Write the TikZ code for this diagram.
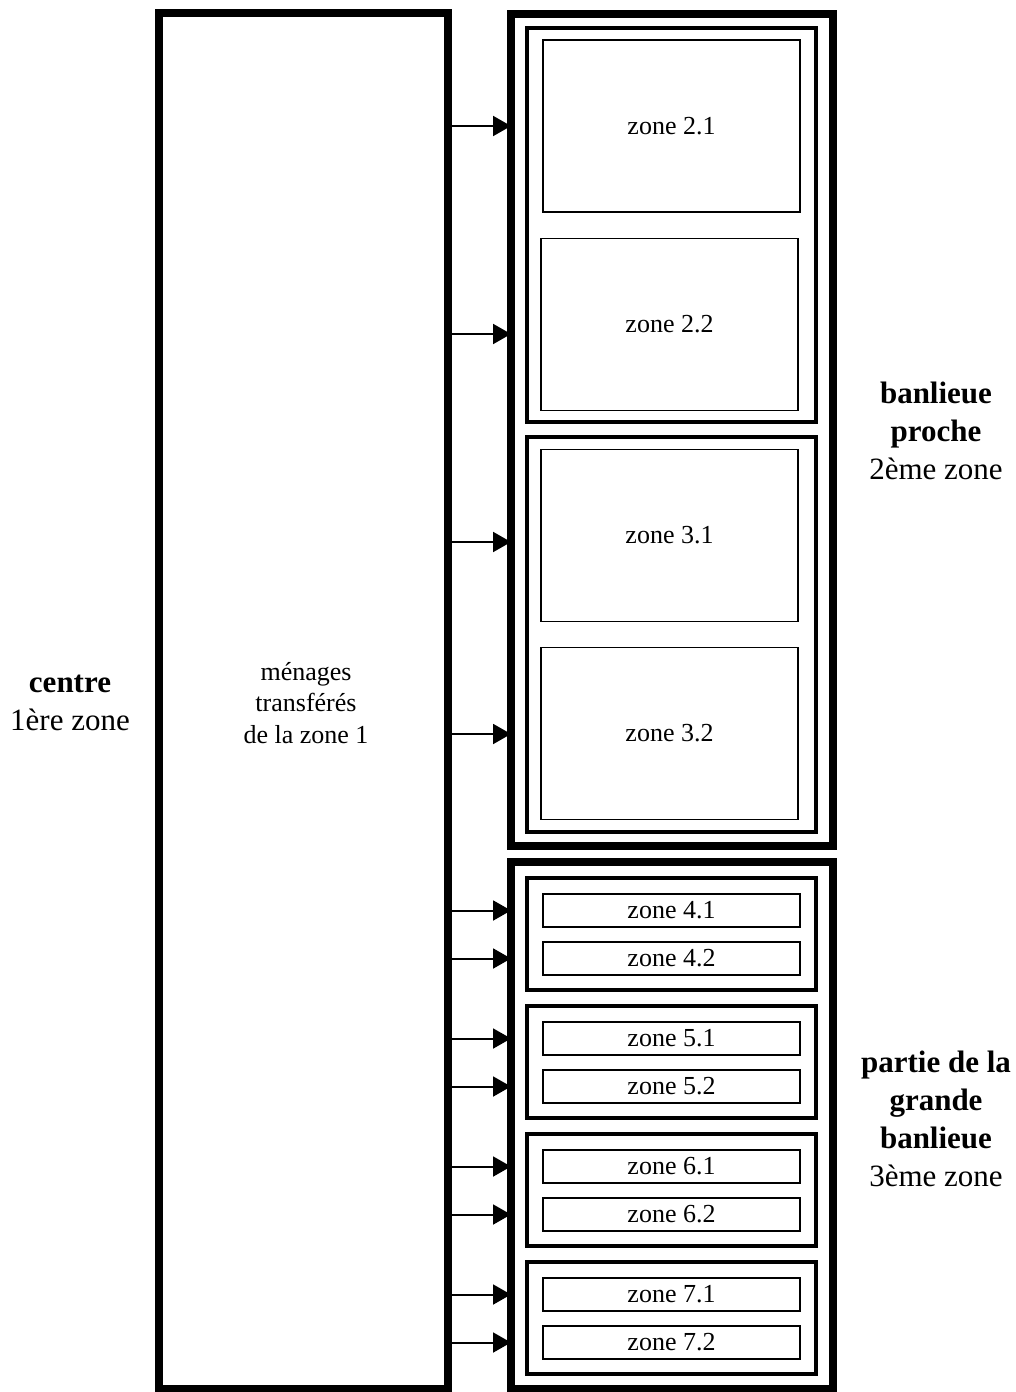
\documentclass[tikz,border=0pt]{standalone}
\usepackage{fontspec}
\setmainfont{Liberation Serif}
\usetikzlibrary{arrows.meta}
\begin{document}
\begin{tikzpicture}[x=1pt, y=-1pt, font=\fontsize{26}{31.5}\selectfont,
  heavybox/.style={draw, line width=7.5pt, inner sep=0pt, outer sep=0pt},
  midbox/.style={draw, line width=4pt, inner sep=0pt, outer sep=0pt},
  zonebox/.style={draw, line width=1.8pt, inner sep=0pt, outer sep=0pt, minimum width=257pt},
  sidelabel/.style={align=center, font=\fontsize{31}{38}\selectfont},
  flow/.style={line width=2pt, -{Triangle[length=18pt, width=20pt]}}]
  \useasboundingbox (0,0) rectangle (1015,1392);
  % ---- zone 1: centre ----
  \node[heavybox, minimum width=289pt, minimum height=1376pt] (centre) at (303.5,701) {};
  \node[align=center] (menages) at (306,703) {ménages\\ transférés\\de la zone 1};
  \node[sidelabel] (lblcentre) at (70,703) {\textbf{centre}\\1ère zone};
  % ---- zone 2: banlieue proche (zones 2 and 3) ----
  \node[heavybox, minimum width=322pt, minimum height=832pt] (proche) at (672,430) {};
  \node[midbox, minimum width=289pt, minimum height=394pt] (b2) at (671.5,225) {};
  \node[midbox, minimum width=289pt, minimum height=395pt] (b3) at (671.5,634.5) {};
  \foreach \n/\x/\y in {21/671.5/126, 22/669.5/324.5, 31/669.5/535.5, 32/669.5/733.5} {
    \node[zonebox, minimum height=172pt] (z\n) at (\x,\y) {};
  }
  \node at (z21) {zone 2.1};
  \node at (z22) {zone 2.2};
  \node at (z31) {zone 3.1};
  \node at (z32) {zone 3.2};
  \node[sidelabel] (lblproche) at (936,431) {\textbf{banlieue}\\\textbf{proche}\\2ème zone};
  % ---- zone 3: partie de la grande banlieue (zones 4 to 7) ----
  \node[heavybox, minimum width=322pt, minimum height=527pt] (grande) at (672,1125.5) {};
  \foreach \k/\t in {4/878, 5/1006, 6/1134, 7/1262} {
    \node[midbox, minimum width=289pt, minimum height=112pt] (b\k) at (671.5,\t+56) {};
    \node[zonebox, minimum height=33pt] (z\k1) at (671.5,\t+32.5) {zone \k.1};
    \node[zonebox, minimum height=33pt] (z\k2) at (671.5,\t+80.5) {zone \k.2};
  }
  \node[sidelabel] (lblgrande) at (936,1119) {\textbf{partie de la}\\\textbf{grande}\\\textbf{banlieue}\\3ème zone};
  % ---- transfers out of zone 1 ----
  \foreach \n/\y in {21/126, 22/334, 31/542, 32/734} {
    \coordinate (a\n) at (0,\y);
    \draw[flow] (centre.east |- a\n) -- (proche.west |- a\n);
  }
  \foreach \k in {4,5,6,7} {
    \draw[flow] (centre.east |- z\k1) -- (grande.west |- z\k1);
    \draw[flow] (centre.east |- z\k2) -- (grande.west |- z\k2);
  }
\end{tikzpicture}
\end{document}
